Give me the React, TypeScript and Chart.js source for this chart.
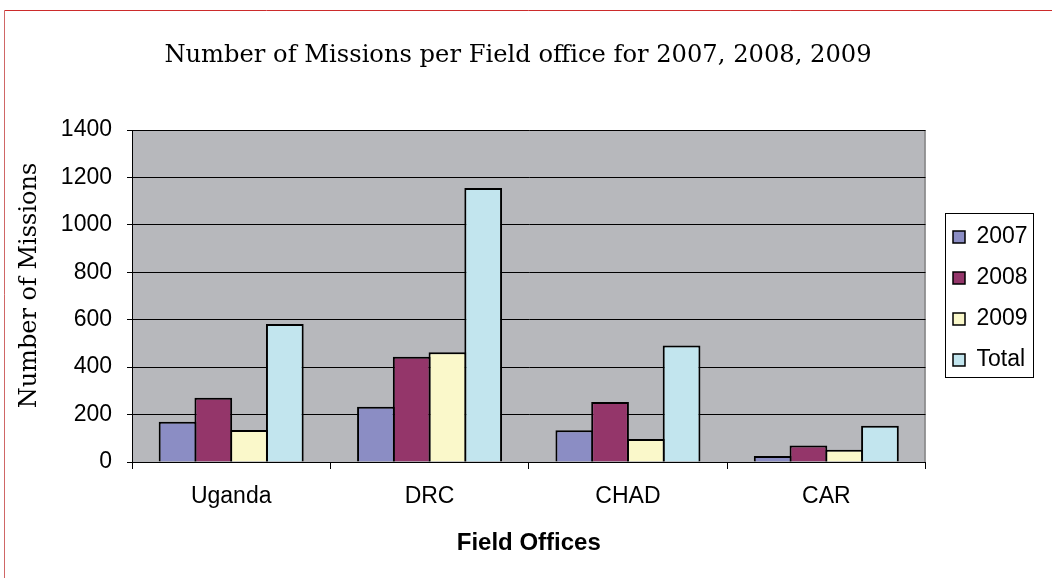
import React, { useEffect, useRef } from "react";
import { Chart, registerables } from "chart.js";

Chart.register(...registerables);

// ---- data ----
const categories = ["Uganda", "DRC", "CHAD", "CAR"];
const seriesNames = ["2007", "2008", "2009", "Total"];
const values2007 = [170, 233, 134, 25];
const values2008 = [271, 444, 253, 70];
const values2009 = [135, 463, 97, 52];
const valuesTotal = [582, 1156, 491, 153];
const seriesValues = [values2007, values2008, values2009, valuesTotal];
const seriesColors = ["#8B8DC4", "#94366A", "#FAF8CA", "#C2E5EE"];
const yMin = 0;
const yMax = 1400;
const yStep = 200;

const chartTitle = "Number of Missions per Field office for 2007, 2008, 2009";
const yTitle = "Number of Missions";
const xTitle = "Field Offices";

// ---- styling ----
const SANS = "'Liberation Sans', Arial, sans-serif";
const SERIF = "'DejaVu Serif', serif";
const PLOT_BG = "#B7B8BC";
const TITLE_DX = 15.25;
const LEGEND_DX = 9.5;
const LEGEND_DY = 9.5;
const YTITLE_DY = -21;

const decorPlugin = {
  id: "decor",
  afterLayout(chart: any) {
    const t = chart.titleBlock;
    if (t) {
      t.left += TITLE_DX;
      t.right += TITLE_DX;
    }
    const l = chart.legend;
    if (l) {
      l.left += LEGEND_DX;
      l.right = chart.width;
      l.width = l.right - l.left;
      l.top += LEGEND_DY;
      l.bottom += LEGEND_DY;
    }
    const s = chart.scales.y;
    if (s && !s._titlePatched) {
      const orig = s.drawTitle;
      s.drawTitle = function () {
        const top = this.top;
        this.top = top + YTITLE_DY;
        orig.call(this);
        this.top = top;
      };
      s._titlePatched = true;
    }
  },
  beforeDraw(chart: any) {
    const { ctx, chartArea: a, width, height } = chart;
    ctx.save();
    ctx.fillStyle = "#ffffff";
    ctx.fillRect(0, 0, width, height);
    ctx.fillStyle = PLOT_BG;
    ctx.fillRect(a.left, a.top, a.right - a.left, a.bottom - a.top);
    // right edge of plot
    ctx.strokeStyle = "#858585";
    ctx.lineWidth = 1.5;
    ctx.beginPath();
    ctx.moveTo(a.right - 0.5, a.top);
    ctx.lineTo(a.right - 0.5, a.bottom);
    ctx.stroke();
    // outer frame (top and left)
    ctx.lineWidth = 1;
    ctx.strokeStyle = "#CC2B2B";
    ctx.beginPath();
    ctx.moveTo(4.5, 10.5);
    ctx.lineTo(width, 10.5);
    ctx.stroke();
    ctx.strokeStyle = "#D06666";
    ctx.beginPath();
    ctx.moveTo(4.5, 10.5);
    ctx.lineTo(4.5, height);
    ctx.stroke();
    ctx.restore();
  },
  afterDraw(chart: any) {
    const l = chart.legend;
    if (!l || !l.legendHitBoxes || !l.legendHitBoxes.length) return;
    const hb = l.legendHitBoxes;
    let minL = Infinity, minT = Infinity, maxR = -Infinity, maxB = -Infinity;
    for (const h of hb) {
      minL = Math.min(minL, h.left);
      minT = Math.min(minT, h.top);
      maxR = Math.max(maxR, h.left + h.width);
      maxB = Math.max(maxB, h.top + h.height);
    }
    const { ctx } = chart;
    ctx.save();
    ctx.strokeStyle = "#000";
    ctx.lineWidth = 1;
    const x0 = Math.round(minL - 8) + 0.5;
    const y0 = Math.round(minT - 12.5) + 0.5;
    const x1 = Math.round(maxR + 5) + 0.5;
    const y1 = Math.round(maxB + 5.5) + 0.5;
    ctx.strokeRect(x0, y0, x1 - x0, y1 - y0);
    ctx.restore();
  },
};

export default function App() {
  const canvasRef = useRef<HTMLCanvasElement | null>(null);

  useEffect(() => {
    const canvas = canvasRef.current;
    if (!canvas) return;
    Chart.defaults.color = "#000";
    const chart = new Chart(canvas, {
      type: "bar",
      data: {
        labels: categories,
        datasets: seriesNames.map((name, i) => ({
          label: name,
          data: seriesValues[i],
          backgroundColor: seriesColors[i],
          borderColor: "#000",
          borderWidth: 2,
          categoryPercentage: 0.721,
          barPercentage: 1.055,
        })),
      },
      options: {
        responsive: false,
        animation: false,
        devicePixelRatio: 1,
        layout: { padding: { left: 0, top: 0, right: 46.5, bottom: 0 } },
        plugins: {
          title: {
            display: true,
            text: chartTitle,
            color: "#000",
            font: { family: SERIF, size: 24.2, weight: "normal" },
            padding: { top: 41, bottom: 60 },
          },
          legend: {
            display: true,
            position: "right",
            maxWidth: 80,
            labels: {
              color: "#000",
              font: { family: SANS, size: 23 },
              boxWidth: 12,
              boxHeight: 12,
              padding: 18,
              generateLabels: (c: any) =>
                Chart.defaults.plugins.legend.labels
                  .generateLabels(c)
                  .map((it: any) => ({ ...it, lineWidth: 1.5, strokeStyle: "#000" })),
            },
          },
          tooltip: { enabled: false },
        },
        scales: {
          x: {
            type: "category",
            grid: {
              display: true,
              drawOnChartArea: false,
              drawTicks: true,
              tickLength: 7,
              color: "#000",
              offset: true,
            },
            border: { display: true, color: "#000", width: 1 },
            ticks: { font: { family: SANS, size: 23 }, color: "#000", padding: 14 },
            title: {
              display: true,
              text: xTitle,
              color: "#000",
              font: { family: SANS, size: 24, weight: "bold" },
              padding: { top: 0, bottom: 20 },
            },
            afterFit: (scale: any) => {
              scale.height = 116;
            },
          },
          y: {
            min: yMin,
            max: yMax,
            grid: { color: "#000", tickLength: 5, drawTicks: true },
            border: { display: true, color: "#000", width: 1 },
            ticks: {
              stepSize: yStep,
              font: { family: SANS, size: 23 },
              color: "#000",
              padding: 15,
              callback: (v: any) => String(v),
            },
            title: {
              display: true,
              text: yTitle,
              color: "#000",
              font: { family: SERIF, size: 24, weight: "normal" },
              padding: { top: 15.6, bottom: 0 },
            },
            afterFit: (scale: any) => {
              scale.width = 132;
            },
          },
        },
      },
      plugins: [decorPlugin],
    } as any);
    return () => chart.destroy();
  }, []);

  return (
    <div style={{ position: "fixed", left: 0, top: 0, width: 1052, height: 578, background: "#fff" }}>
      <canvas ref={canvasRef} width={1052} height={578} style={{ display: "block" }} />
    </div>
  );
}
